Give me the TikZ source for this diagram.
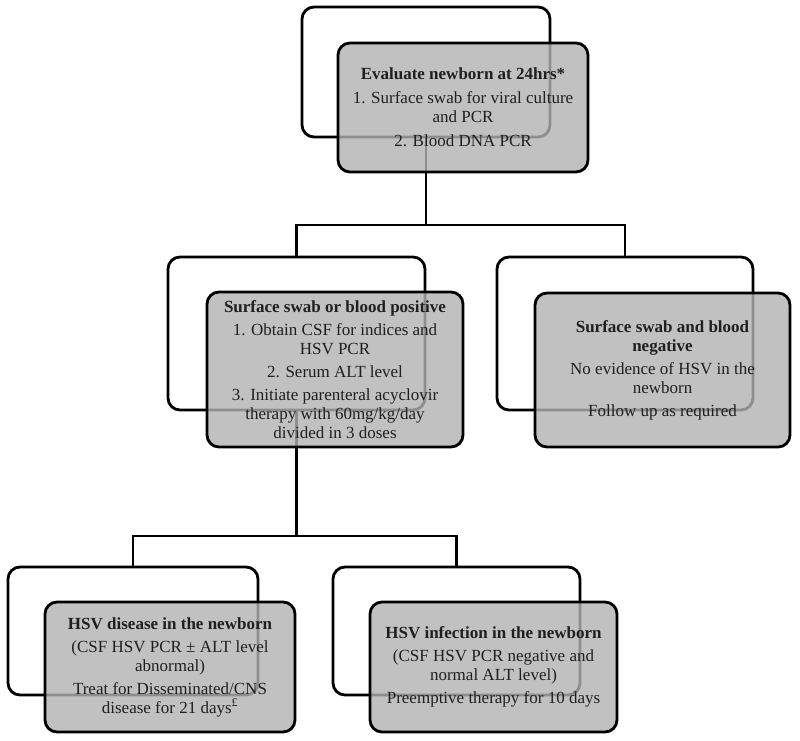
\documentclass[tikz,border=0pt]{standalone}
\usepackage{fontspec}
\setmainfont{Liberation Serif}
\begin{document}
\begin{tikzpicture}[x=1pt,y=-1pt,
  backbox/.style={draw=black, line width=2.8pt, rounded corners=12pt, fill=white, inner sep=0pt},
  frontbox/.style={draw=black, line width=2.8pt, rounded corners=12pt, fill=black!30, fill opacity=0.8, text opacity=1, inner sep=0pt, align=center, font=\fontsize{17}{19}\selectfont, text=black!88},
  conn/.style={draw=black, line width=2.8pt}]
\useasboundingbox (0,0) rectangle (800,740);
% back boxes
\node[backbox, minimum width=248pt, minimum height=130pt] (tb) at (426,72) {};
\node[backbox, minimum width=257pt, minimum height=153pt] (mlb) at (296.5,333.5) {};
\node[backbox, minimum width=256pt, minimum height=153pt] (mrb) at (625,333.5) {};
\node[backbox, minimum width=250pt, minimum height=128pt] (blb) at (133,631) {};
\node[backbox, minimum width=247pt, minimum height=128pt] (brb) at (456.5,631) {};
% connectors
\coordinate (j1) at (426,225);
\coordinate (j2) at (296.5,536);
\draw[conn] (tb.south) -- (j1);
\draw[conn] (mlb.north) |- (j1) -| (mrb.north);
\draw[conn] (mlb.south) -- (j2);
\draw[conn] (blb.north) |- (j2) -| (brb.north);
% front boxes
\node[frontbox, minimum width=250pt, minimum height=129pt] (tf) at (463,107.5)
  {\textbf{Evaluate newborn at 24hrs*}\\[5pt]
   1. Surface swab for viral culture\\ and PCR\\[5pt]
   2. Blood DNA PCR};
\node[frontbox, minimum width=256pt, minimum height=155pt] (mlf) at (335,369.5)
  {\textbf{Surface swab or blood positive}\\[4pt]
   1. Obtain CSF for indices and\\ HSV PCR\\[4pt]
   2. Serum ALT level\\[4pt]
   3. Initiate parenteral acyclovir\\ therapy with 60mg/kg/day\\ divided in 3 doses};
\node[frontbox, minimum width=255pt, minimum height=154pt] (mrf) at (662.5,370)
  {\textbf{Surface swab and blood}\\ \textbf{negative}\\[4pt]
   No evidence of HSV in the\\ newborn\\[4pt]
   Follow up as required};
\node[frontbox, minimum width=250pt, minimum height=130pt] (blf) at (170,667)
  {\textbf{HSV disease in the newborn}\\[4pt]
   (CSF HSV PCR ± ALT level\\ abnormal)\\[4pt]
   Treat for Disseminated/CNS\\ disease for 21 days\textsuperscript{£}};
\node[frontbox, minimum width=247pt, minimum height=130pt] (brf) at (493.5,667)
  {\textbf{HSV infection in the newborn}\\[4pt]
   (CSF HSV PCR negative and\\ normal ALT level)\\[4pt]
   Preemptive therapy for 10 days};
\end{tikzpicture}
\end{document}
